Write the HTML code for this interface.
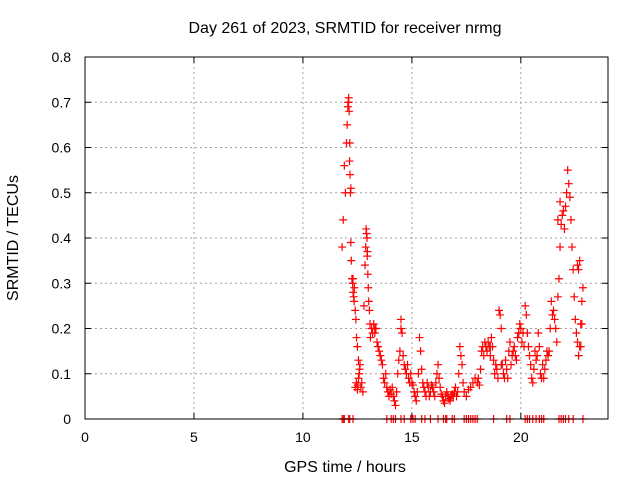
<!DOCTYPE html>
<html><head><meta charset="utf-8"><style>
body{margin:0;background:#fff;}
svg{display:block;font-family:"Liberation Sans",sans-serif;}
</style></head><body>
<svg id="chart" width="640" height="480">
<text x="345" y="33" font-size="16" text-anchor="middle">Day 261 of 2023, SRMTID for receiver nrmg</text>
<text x="345" y="472" font-size="16" text-anchor="middle">GPS time / hours</text>
<text transform="translate(18,238) rotate(-90)" font-size="16" text-anchor="middle">SRMTID / TECUs</text>
<g id="grid"></g><g id="ticks"></g><g id="marks"></g>
<rect x="85" y="57" width="523" height="362" fill="none" stroke="#000" stroke-width="1"/>
</svg>
<script>
const xTicks=[0,5,10,15,20];
const yTicks=[0,0.1,0.2,0.3,0.4,0.5,0.6,0.7,0.8];
const yTickLabels=["0","0.1","0.2","0.3","0.4","0.5","0.6","0.7","0.8"];
const timesA=[11.80,11.85,11.90,11.95,12.00,12.03,12.06,12.08,12.10,12.12,12.14,12.16,12.18,12.20,12.22,12.25,12.28,12.30,12.33,12.36,12.40,12.43,12.46,12.50,12.55,12.60];
const valuesA=[0.38,0.44,0.56,0.50,0.61,0.65,0.69,0.70,0.71,0.68,0.57,0.54,0.50,0.39,0.35,0.31,0.30,0.28,0.27,0.29,0.24,0.22,0.18,0.16,0.13,0.11];
const timesA2=[12.40,12.45,12.50,12.52,12.55,12.58,12.62,12.66,12.70,12.75];
const valuesA2=[0.07,0.08,0.065,0.075,0.09,0.10,0.12,0.07,0.08,0.06];
const timesB=[12.80,12.85,12.88,12.90,12.92,12.94,12.96,12.98,13.00,13.02,13.05,13.08,13.10,13.15,13.20,13.25,13.30,13.35,13.40,13.45,13.50];
const valuesB=[0.25,0.34,0.38,0.42,0.41,0.40,0.37,0.32,0.29,0.26,0.24,0.21,0.18,0.20,0.19,0.21,0.19,0.20,0.17,0.16,0.15];
const timesC=[13.55,13.60,13.65,13.70,13.75,13.80,13.85,13.90,13.95,14.00,14.05,14.10,14.15,14.20,14.25,14.30,14.35,14.40,14.45,14.50,14.55,14.60,14.65,14.70,14.75,14.80,14.85,14.90,14.95];
const valuesC=[0.14,0.13,0.12,0.09,0.08,0.10,0.07,0.06,0.05,0.065,0.055,0.07,0.05,0.04,0.03,0.06,0.10,0.13,0.15,0.22,0.19,0.14,0.12,0.11,0.10,0.12,0.09,0.08,0.10];
const timesD=[15.00,15.05,15.10,15.15,15.20,15.25,15.30,15.35,15.40,15.45,15.50,15.55,15.60,15.65,15.70,15.75,15.80,15.85,15.90,15.95,16.00,16.05,16.10,16.15,16.20,16.25,16.30,16.35,16.40,16.45,16.50,16.55,16.60,16.65,16.70,16.75,16.80,16.85,16.90,16.95,17.00,17.05,17.10,17.15,17.20,17.25,17.30,17.35,17.40];
const valuesD=[0.08,0.075,0.06,0.05,0.04,0.06,0.10,0.18,0.15,0.11,0.08,0.07,0.06,0.05,0.08,0.07,0.05,0.06,0.075,0.07,0.06,0.05,0.08,0.10,0.12,0.09,0.07,0.055,0.05,0.04,0.035,0.05,0.06,0.05,0.045,0.04,0.05,0.055,0.05,0.06,0.07,0.05,0.06,0.10,0.16,0.14,0.12,0.08,0.06];
const timesE=[17.50,17.60,17.70,17.80,17.90,18.00,18.05,18.10,18.15,18.20,18.25,18.30,18.35,18.40,18.45,18.50,18.55,18.60,18.65,18.70,18.75,18.80,18.85,18.90,18.95,19.00,19.05,19.10,19.15,19.20,19.25,19.30,19.35,19.40,19.45];
const valuesE=[0.05,0.065,0.07,0.08,0.09,0.08,0.09,0.075,0.11,0.15,0.16,0.14,0.17,0.16,0.15,0.17,0.16,0.14,0.18,0.16,0.13,0.10,0.12,0.11,0.09,0.24,0.23,0.20,0.12,0.10,0.09,0.13,0.11,0.09,0.15];
const timesF=[19.50,19.55,19.60,19.65,19.70,19.75,19.80,19.85,19.90,19.95,20.00,20.05,20.10,20.15,20.20,20.25,20.30,20.35,20.40,20.45,20.50,20.55,20.60,20.65,20.70,20.75,20.80,20.85,20.90,20.95,21.00,21.05,21.10,21.15,21.20,21.25,21.30,21.35,21.40,21.45];
const valuesF=[0.17,0.12,0.14,0.15,0.16,0.14,0.13,0.18,0.19,0.21,0.20,0.17,0.19,0.16,0.25,0.23,0.19,0.16,0.14,0.12,0.09,0.08,0.11,0.15,0.13,0.14,0.19,0.16,0.10,0.09,0.12,0.09,0.11,0.13,0.15,0.14,0.15,0.20,0.26,0.23];
const timesG=[21.50,21.55,21.60,21.65,21.70,21.75,21.80,21.85,21.90,21.95,22.00,22.05,22.10,22.15,22.20,22.25,22.30,22.35,22.40,22.45,22.50,22.55,22.60,22.65,22.70,22.75,22.80,22.85];
const valuesG=[0.24,0.22,0.20,0.17,0.27,0.31,0.38,0.43,0.45,0.46,0.42,0.47,0.50,0.55,0.52,0.49,0.44,0.38,0.33,0.27,0.22,0.19,0.17,0.14,0.16,0.21,0.26,0.29];
const timesX=[12.10,12.15,12.20,12.30,12.35,12.95,13.30,14.50,18.60,19.10,19.90,21.70,21.80,22.60,22.65,22.70,22.75,22.80];
const valuesX=[0.70,0.61,0.51,0.31,0.26,0.36,0.20,0.20,0.16,0.12,0.19,0.44,0.48,0.34,0.33,0.35,0.16,0.21];
const zeroTimes=[11.8,11.85,11.9,12.1,12.15,12.3,13.85,14.05,14.15,14.25,14.5,14.65,14.95,15.05,15.15,15.45,15.6,15.85,16.2,16.45,16.55,16.6,16.85,16.95,17.4,17.5,17.6,17.7,17.8,17.9,18.0,18.75,19.35,19.5,20.2,20.3,20.4,20.55,20.7,20.85,20.95,21.05,21.75,21.85,21.95,22.05,22.2,22.4,22.85];
const X0=85,X1=608,Y0=419,Y1=57,XMAX=24,YMAX=0.8;
const sx=v=>X0+v/XMAX*(X1-X0);
const sy=v=>Y0-v/YMAX*(Y0-Y1);
const NS="http://www.w3.org/2000/svg";
const grid=document.getElementById('grid'),ticks=document.getElementById('ticks'),marks=document.getElementById('marks');
function mk(tag,attrs,parent){const e=document.createElementNS(NS,tag);for(const k in attrs)e.setAttribute(k,attrs[k]);parent.appendChild(e);return e;}
xTicks.forEach(t=>{
  if(t>0){const g=mk('line',{x1:sx(t),x2:sx(t),y1:Y0,y2:Y1,stroke:'#a0a0a0','stroke-dasharray':'2,3'},grid);
  
  }
  const tk=mk('line',{x1:sx(t),x2:sx(t),y1:Y0,y2:Y0-6,stroke:'#000'},ticks);
  
  
  const tk2=mk('line',{x1:sx(t),x2:sx(t),y1:Y1,y2:Y1+6,stroke:'#000'},ticks);
  
  
  const l=mk('text',{x:sx(t),y:442,'font-size':14,'text-anchor':'middle'},ticks);l.textContent=String(t);
  
  
});
yTicks.forEach((t,i)=>{
  if(t>0&&t<YMAX){const g=mk('line',{x1:X0,x2:X1,y1:sy(t),y2:sy(t),stroke:'#a0a0a0','stroke-dasharray':'2,3'},grid);
  
  }
  const tk=mk('line',{x1:X0,x2:X0+6,y1:sy(t),y2:sy(t),stroke:'#000'},ticks);
  
  
  const tk2=mk('line',{x1:X1,x2:X1-6,y1:sy(t),y2:sy(t),stroke:'#000'},ticks);
  
  
  const l=mk('text',{x:71,y:sy(t)+5,'font-size':14,'text-anchor':'end'},ticks);l.textContent=yTickLabels[i];
  
  
});
function plus(x,y,col){return mk('path',{d:`M${x-4},${y}h8M${x},${y-4}v8`,stroke:col,'stroke-width':1.2,fill:'none'},marks);}
const series=[[timesA,valuesA],[timesA2,valuesA2],[timesB,valuesB],[timesC,valuesC],[timesD,valuesD],[timesE,valuesE],[timesF,valuesF],[timesG,valuesG],[timesX,valuesX]];
series.forEach(([ts,vs])=>{
  ts.forEach((t,i)=>{
    const p=plus(sx(t),sy(vs[i]),'#ff0000');
    
    
  });
});
zeroTimes.forEach(t=>{
  const p=plus(sx(t),sy(0),'#ff0000');
  
  
});
</script>
</body></html>
